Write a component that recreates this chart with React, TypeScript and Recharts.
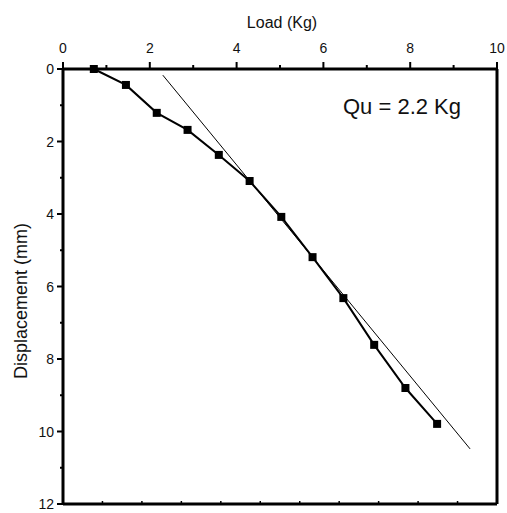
import React from 'react';
import { ComposedChart, XAxis, YAxis, Scatter, ReferenceLine } from 'recharts';

const loadKg = [0.71, 1.45, 2.16, 2.87, 3.59, 4.3, 5.03, 5.75, 6.46, 7.17, 7.89, 8.62];
const displacementMm = [0, 0.44, 1.21, 1.68, 2.37, 3.09, 4.08, 5.19, 6.32, 7.61, 8.8, 9.79];
const tangentLoad = [2.3, 9.38];
const tangentDisp = [0.17, 10.48];
const xTicks = [0, 1, 2, 3, 4, 5, 6, 7, 8, 9, 10];
const yTicks = [0, 1, 2, 3, 4, 5, 6, 7, 8, 9, 10, 11, 12];
const annotation = 'Qu = 2.2 Kg';

const data = loadKg.map((x, i) => ({ x, y: displacementMm[i] }));
const FONT = '"Liberation Sans", Arial, sans-serif';

const TopTick = (props: any) => {
  const { x, y, payload } = props;
  const major = payload.value % 2 === 0;
  return (
    <g>
      <line x1={x} x2={x} y1={y} y2={y - (major ? 7 : 4)} stroke="#000" strokeWidth={2} />
      {major && (
        <text x={x} y={y - 16} textAnchor="middle" fontSize={14} fontFamily={FONT} fill="#111">
          {payload.value}
        </text>
      )}
    </g>
  );
};

const LeftTick = (props: any) => {
  const { x, y, payload } = props;
  const major = payload.value % 2 === 0;
  return (
    <g>
      <line x1={x} x2={x - (major ? 6 : 3)} y1={y} y2={y} stroke="#000" strokeWidth={2} />
      {major && (
        <text x={x - 9} y={y + 5} textAnchor="end" fontSize={14} fontFamily={FONT} fill="#111">
          {payload.value}
        </text>
      )}
    </g>
  );
};

const BottomTick = (props: any) => {
  const { x, y } = props;
  return <line x1={x} x2={x} y1={y} y2={y - 3} stroke="#000" strokeWidth={1.5} />;
};

const SquareDot = (props: any) => {
  const { cx, cy } = props;
  if (cx == null || cy == null) return null;
  return <rect x={cx - 4} y={cy - 4} width={8} height={8} fill="#000" />;
};

export default function App() {
  return (
    <div style={{ position: 'absolute', left: 0, top: 0, width: 507, height: 513, background: '#fff' }}>
      <ComposedChart width={507} height={513} data={data} margin={{ top: 0, right: 0, bottom: 0, left: 0 }}>
        <XAxis
          xAxisId="t"
          orientation="top"
          type="number"
          dataKey="x"
          domain={[0, 10]}
          ticks={xTicks}
          height={69}
          tickSize={0}
          tickMargin={0}
          tickLine={false}
          interval={0}
          axisLine={{ stroke: '#000', strokeWidth: 3 }}
          tick={<TopTick />}
          label={{
            content: () => (
              <text x={282} y={28} textAnchor="middle" fontSize={16} fontFamily={FONT} fill="#111">
                Load (Kg)
              </text>
            ),
          }}
        />
        <XAxis
          xAxisId="b"
          orientation="bottom"
          type="number"
          domain={[0, 10]}
          ticks={xTicks}
          height={9}
          tickSize={0}
          tickMargin={0}
          tickLine={false}
          interval={0}
          axisLine={{ stroke: '#000', strokeWidth: 3 }}
          tick={<BottomTick />}
        />
        <YAxis
          yAxisId="l"
          orientation="left"
          type="number"
          dataKey="y"
          domain={[0, 12]}
          reversed
          ticks={yTicks}
          width={63}
          tickSize={0}
          tickMargin={0}
          tickLine={false}
          interval={0}
          axisLine={{ stroke: '#000', strokeWidth: 3 }}
          tick={<LeftTick />}
          label={{
            content: () => (
              <text
                x={0}
                y={0}
                transform="translate(27 301) rotate(-90)"
                textAnchor="middle"
                fontSize={18}
                fontFamily={FONT}
                fill="#111"
              >
                Displacement (mm)
              </text>
            ),
          }}
        />
        <YAxis
          yAxisId="r"
          orientation="right"
          type="number"
          domain={[0, 12]}
          reversed
          width={10}
          tick={false}
          tickLine={false}
          axisLine={{ stroke: '#000', strokeWidth: 3 }}
        />
        <ReferenceLine
          xAxisId="t"
          yAxisId="l"
          segment={[
            { x: tangentLoad[0], y: tangentDisp[0] },
            { x: tangentLoad[1], y: tangentDisp[1] },
          ]}
          stroke="#000"
          strokeWidth={1}
          ifOverflow="visible"
        />
        <Scatter
          xAxisId="t"
          yAxisId="l"
          data={data}
          dataKey="y"
          line={{ stroke: '#000', strokeWidth: 2 }}
          shape={<SquareDot />}
          isAnimationActive={false}
        />
      </ComposedChart>
      <svg width={507} height={513} style={{ position: 'absolute', left: 0, top: 0, pointerEvents: 'none' }}>
        <text x={343} y={114} fontSize={22} fontFamily={FONT} fill="#111">
          {annotation}
        </text>
      </svg>
    </div>
  );
}
